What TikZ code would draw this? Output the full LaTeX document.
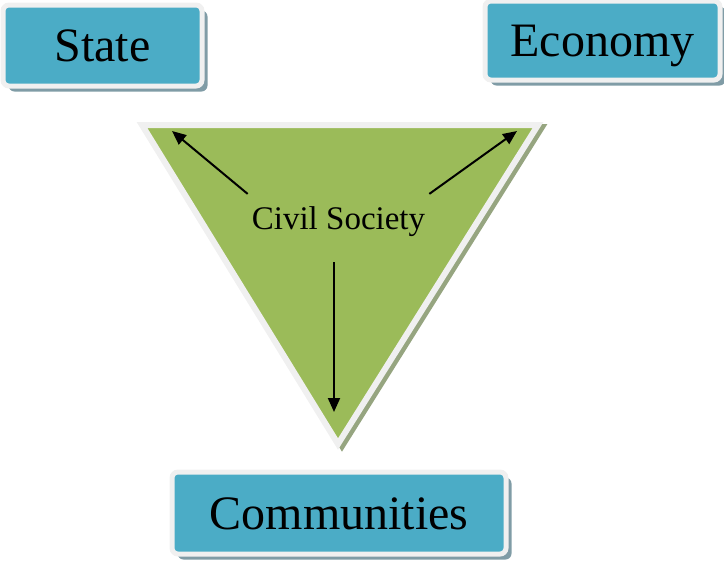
\documentclass[tikz,border=0pt]{standalone}
\usepackage{fontspec}
\setmainfont{Liberation Serif}
\newfontfamily\labelfont{Liberation Serif}
\usetikzlibrary{
  shadows,
  arrows.meta
}
\definecolor{boxblue}{RGB}{75,172,198}
\definecolor{wedgegreen}{RGB}{155,187,89}
\definecolor{boxshade}{RGB}{128,156,166}
\definecolor{wedgeshade}{RGB}{150,165,128}
\colorlet{rim}{white!94!black}
\tikzset{
  sector box/.style={rectangle,rounded corners=6pt,fill=boxblue,draw=rim,line width=5pt,
    inner sep=0pt,text height=32pt,text depth=0pt,font=\labelfont\fontsize{48}{48}\selectfont,
    drop shadow={shadow xshift=5.5pt,shadow yshift=-5.5pt,fill=boxshade,opacity=1}},
  link/.style={line width=2pt,-{Triangle[length=14pt,width=12pt]}},
}

\begin{document}
\begin{tikzpicture}[x=1pt,y=-1pt]
\useasboundingbox (0,0) rectangle (724,563);
% the wedge and its shadow
\coordinate (wl) at (142,125);
\coordinate (wr) at (538,125);
\coordinate (wb) at (338,444);
\filldraw[fill=wedgeshade,draw=wedgeshade,line width=6pt,line join=miter]
  ([shift={(4,2)}]wl) -- ([shift={(4,2)}]wr) -- ([shift={(4,2)}]wb) -- cycle;
\filldraw[fill=wedgegreen,draw=rim,line width=6pt,line join=miter]
  (wl) -- (wr) -- (wb) -- cycle;
% the three sectors
\node[sector box,minimum width=199pt,minimum height=81pt] (state) at (102.5,45.5) {State};
\node[sector box,minimum width=235pt,minimum height=79pt] (economy) at (602.5,40.5) {Economy};
\node[sector box,minimum width=334pt,minimum height=82pt] (communities) at (339,513) {Communities};
\node[font=\labelfont\fontsize{33}{33}\selectfont,anchor=base,inner xsep=4pt,inner ysep=12pt]
  (civil) at (338.5,229) {Civil Society};
\coordinate (toState) at (172,131);
\coordinate (toEconomy) at (517,131);
\coordinate (toCommunities) at (334,412);
\draw[link] (civil.north west) -- (toState);
\draw[link] (civil.north east) -- (toEconomy);
\draw[link] ([yshift=-14pt]civil.south -| toCommunities) -- (toCommunities);
\end{tikzpicture}
\end{document}
